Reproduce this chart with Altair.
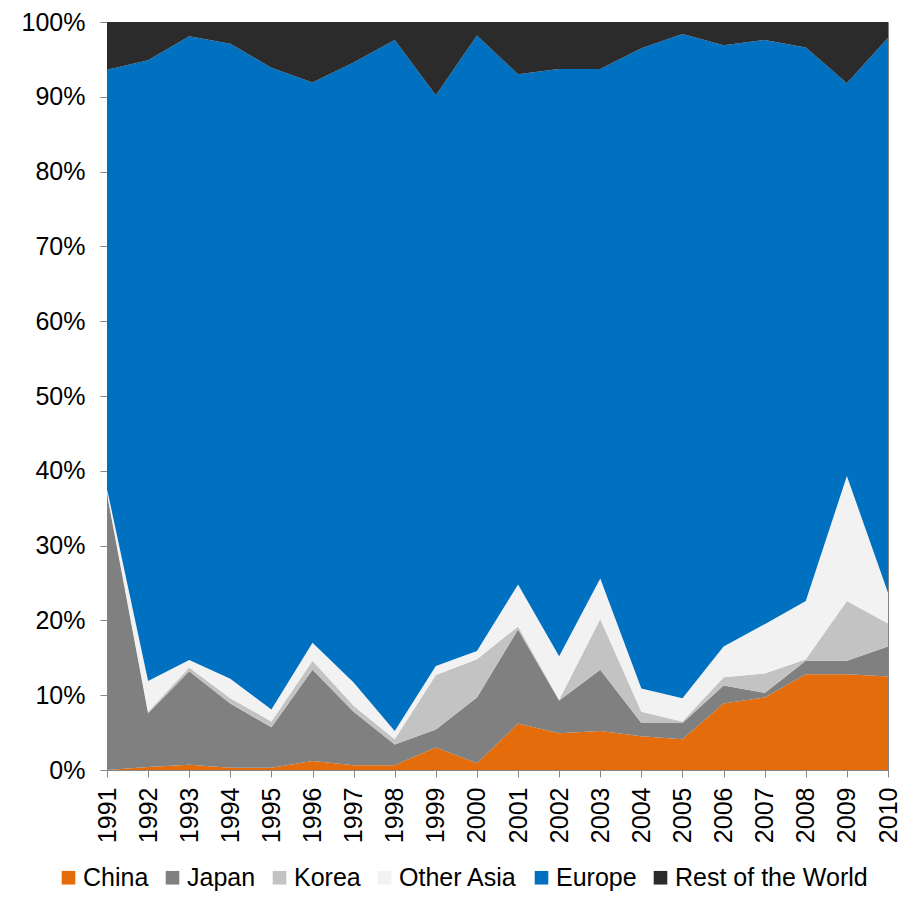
import altair as alt
import pandas as pd

years = list(range(1991, 2011))
series = ["China", "Japan", "Korea", "Other Asia", "Europe", "Rest of the World"]
colors = ["#E46C0A", "#808080", "#C3C3C3", "#F2F2F2", "#0070C0", "#2B2B2B"]

china = [0.0, 0.4, 0.7, 0.3, 0.3, 1.2, 0.65, 0.65, 3.0, 0.9, 6.2, 4.9, 5.2, 4.5, 4.1, 8.9, 9.7, 12.8, 12.8, 12.5]
japan = [36.9, 7.2, 12.5, 8.6, 5.4, 12.2, 7.15, 2.75, 2.4, 8.8, 12.6, 4.4, 8.2, 1.8, 2.2, 2.4, 0.6, 1.8, 1.8, 4.0]
korea = [0.2, 0.2, 0.5, 0.7, 0.8, 1.2, 0.8, 0.7, 7.3, 5.1, 0.4, 0.1, 6.8, 1.5, 0.2, 1.1, 2.6, 0.2, 8.0, 3.1]
other_asia = [0.5, 4.1, 1.0, 2.6, 1.6, 2.4, 3.1, 1.1, 1.2, 1.1, 5.6, 5.8, 5.4, 3.1, 3.1, 4.1, 6.6, 7.8, 16.7, 4.1]
europe = [56.0, 83.0, 83.4, 84.9, 85.8, 74.9, 82.9, 92.4, 76.3, 82.3, 68.2, 78.5, 68.1, 85.6, 88.8, 80.4, 78.1, 74.0, 52.5, 74.2]
rest = [6.4, 5.1, 1.9, 2.9, 6.1, 8.1, 5.4, 2.4, 9.8, 1.8, 7.0, 6.3, 6.3, 3.5, 1.6, 3.1, 2.4, 3.4, 8.2, 2.1]

values = [china, japan, korea, other_asia, europe, rest]
rows = []
for idx, (name, vals) in enumerate(zip(series, values)):
    for y, v in zip(years, vals):
        rows.append({"year": y, "region": name, "share": v, "idx": idx})
df = pd.DataFrame(rows)

FONT = "Liberation Sans"
AXIS_GRAY = "#868686"

chart = alt.Chart(df).mark_area(interpolate="linear").encode(
    x=alt.X("year:Q",
            scale=alt.Scale(domain=[1991, 2010], nice=False, zero=False),
            axis=alt.Axis(values=years, format="d", labelAngle=-90, labelAlign="right",
                          labelBaseline="middle", labelPadding=10, tickSize=7,
                          title=None, grid=False)),
    y=alt.Y("share:Q", stack="normalize",
            scale=alt.Scale(domain=[0, 1], nice=False),
            axis=alt.Axis(values=[i / 10 for i in range(11)], format=".0%",
                          labelPadding=15, tickSize=7, title=None, grid=False)),
    color=alt.Color("region:N",
                    scale=alt.Scale(domain=series, range=colors),
                    legend=alt.Legend(title=None, orient="none", direction="horizontal",
                                      legendX=-51, legendY=843,
                                      symbolType="square", symbolSize=185,
                                      symbolStrokeWidth=0, symbolOpacity=1,
                                      labelFontSize=25, labelFont=FONT, labelColor="#000000",
                                      labelLimit=400, labelOffset=2, columnPadding=11,
                                      padding=0)),
    order=alt.Order("idx:Q", sort="ascending"),
).properties(
    width=781, height=748,
    autosize=alt.AutoSizeParams(type="none"),
    padding={"left": 99, "top": 14, "right": 17, "bottom": 123},
).configure_view(
    stroke=AXIS_GRAY, strokeWidth=1
).configure_axis(
    labelFont=FONT, labelFontSize=25, labelColor="#000000",
    domainColor=AXIS_GRAY, tickColor=AXIS_GRAY, domainWidth=1, tickWidth=1,
    labelOverlap=False
)

chart.save("out.html", embed_options={"renderer": "svg", "actions": False})
